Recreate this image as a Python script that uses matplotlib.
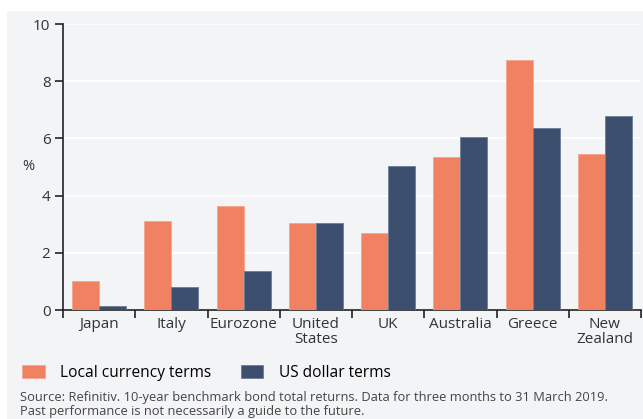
import numpy as np
import matplotlib.pyplot as plt
from matplotlib.patches import Rectangle

plt.rcParams['font.family'] = ['Open Sans', 'DejaVu Sans']

countries = ["Japan", "Italy", "Eurozone", "United\nStates", "UK", "Australia", "Greece", "New\nZealand"]
local_ccy = [1.0, 3.1, 3.65, 3.05, 2.7, 5.35, 8.75, 5.45]
usd = [0.15, 0.82, 1.35, 3.05, 5.05, 6.05, 6.38, 6.78]

orange = "#f08262"
navy = "#3c4f6e"
bg = "#f3f4f6"

fig = plt.figure(figsize=(6.43, 4.19), dpi=100)
fig.patch.set_facecolor("white")
fig.patches.append(Rectangle((7 / 643, 0), 1, 1 - 11 / 419, transform=fig.transFigure,
                             facecolor=bg, edgecolor="none", zorder=-10))

ax = fig.add_axes([63 / 643, 1 - 310 / 419, 578 / 643, 286 / 419])
ax.set_facecolor(bg)

x = np.arange(len(countries))
w = 0.375
ax.bar(x - w / 2, local_ccy, w, color=orange, edgecolor="#f6a58c", linewidth=0.6,
       label="Local currency terms", zorder=3)
ax.bar(x + w / 2, usd, w, color=navy, edgecolor="#6b7d99", linewidth=0.6,
       label="US dollar terms", zorder=3)

ax.set_xlim(-0.5, len(countries) - 0.5)
ax.set_ylim(0, 10)
ax.set_yticks([0, 2, 4, 6, 8, 10])
ax.yaxis.grid(True, color="white", linewidth=1.2, zorder=0)
ax.set_axisbelow(True)

ax.set_xticks(x)
ax.set_xticklabels(countries, fontsize=11, color="#333333", linespacing=1.05)
ax.set_xticks(np.arange(len(countries) + 1) - 0.5, minor=True)
ax.tick_params(axis="x", which="major", length=0, pad=5)
ax.tick_params(axis="x", which="minor", length=6, width=1.2, color="#222222")
ax.tick_params(axis="y", length=6, width=1.2, color="#222222", labelsize=11,
               labelcolor="#333333", pad=3)

for s in ["top", "right"]:
    ax.spines[s].set_visible(False)
for s in ["left", "bottom"]:
    ax.spines[s].set_linewidth(1.2)
    ax.spines[s].set_color("#222222")

fig.text(22 / 643, 1 - 166 / 419, "%", fontsize=10.5, color="#333333", va="center")

ax.legend(loc="center left", bbox_to_anchor=(22 / 643, 1 - 373 / 419), bbox_transform=fig.transFigure,
          ncol=2, frameon=False, fontsize=11.2, handlelength=1.45, handleheight=0.95,
          columnspacing=1.9, handletextpad=1.0, borderaxespad=0, borderpad=0)

fig.text(20 / 643, 1 - 404 / 419,
         "Source: Refinitiv. 10-year benchmark bond total returns. Data for three months to 31 March 2019.\n"
         "Past performance is not necessarily a guide to the future.",
         fontsize=9.3, color="#444444", va="center", linespacing=1.1)

fig.savefig("out.png", dpi=100, facecolor=fig.get_facecolor())
